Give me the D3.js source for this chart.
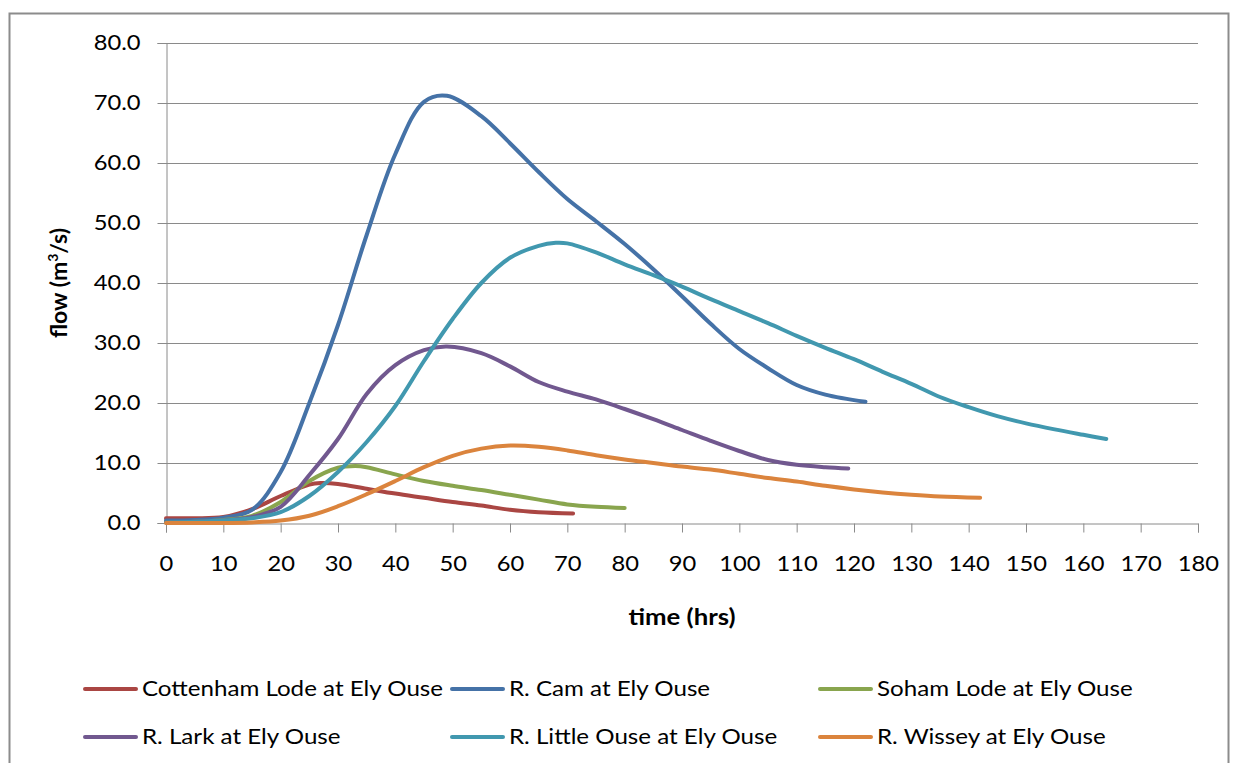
<!DOCTYPE html>
<html>
<head>
<meta charset="utf-8">
<script src="https://cdn.jsdelivr.net/npm/d3@7"></script>
<style>
  html, body { margin: 0; padding: 0; background: #fff; }
  svg { display: block; }
  text { font-family: Lato, "Open Sans", sans-serif; fill: #000; }
</style>
</head>
<body>
<svg id="chart" width="1233" height="763"></svg>
<script>
// Flow hydrographs at Ely Ouse, time in hours, flow in m3/s
const cottenhamT = [0, 5, 10, 15, 20, 25, 27, 30, 35, 40, 45, 50, 55, 60, 65, 71];
const cottenhamQ = [0.8, 0.8, 1.0, 2.3, 4.5, 6.4, 6.65, 6.5, 5.7, 4.9, 4.2, 3.5, 2.9, 2.2, 1.8, 1.6];

const camT = [0, 5, 10, 15, 20, 25, 30, 35, 40, 45, 49, 55, 60, 65, 70, 75, 80, 85, 90, 95, 100, 105, 110, 115, 122];
const camQ = [0.4, 0.5, 0.9, 2.2, 8.5, 20, 33, 48, 61.5, 70.2, 71.2, 67.8, 63.3, 58.5, 54, 50.3, 46.5, 42.3, 37.8, 33.2, 29, 25.8, 23, 21.4, 20.2];

const sohamT = [0, 5, 10, 15, 20, 25, 30, 33, 35, 40, 45, 50, 55, 60, 65, 70, 75, 80];
const sohamQ = [0.1, 0.2, 0.5, 1.2, 3.5, 7, 9.2, 9.5, 9.3, 8.1, 7, 6.2, 5.5, 4.7, 3.9, 3.1, 2.7, 2.5];

const larkT = [0, 5, 10, 15, 20, 25, 30, 35, 40, 45, 49, 55, 60, 65, 70, 75, 80, 85, 90, 95, 100, 105, 110, 115, 119];
const larkQ = [0.1, 0.2, 0.4, 1, 2.7, 8, 14, 21.5, 26.3, 28.8, 29.4, 28.3, 26.1, 23.5, 21.9, 20.6, 19, 17.3, 15.5, 13.7, 12, 10.5, 9.7, 9.3, 9.1];

const littleOuseT = [0, 5, 10, 15, 20, 25, 30, 35, 40, 45, 50, 55, 60, 65, 68, 70, 75, 80, 85, 90, 95, 100, 105, 110, 115, 120, 125, 130, 135, 140, 145, 150, 155, 160, 164];
const littleOuseQ = [0.1, 0.2, 0.4, 0.8, 1.8, 4.5, 8.5, 13.5, 19.5, 27, 34, 40, 44.2, 46.2, 46.7, 46.6, 45.1, 43.1, 41.3, 39.4, 37.3, 35.3, 33.3, 31.2, 29.2, 27.3, 25.2, 23.2, 21, 19.3, 17.8, 16.6, 15.6, 14.7, 14.0];

const wisseyT = [0, 5, 10, 15, 20, 25, 30, 35, 40, 45, 50, 55, 60, 65, 70, 75, 80, 85, 90, 95, 100, 105, 110, 115, 120, 125, 130, 135, 142];
const wisseyQ = [0, 0, 0, 0.1, 0.4, 1.2, 2.8, 4.8, 7, 9.3, 11.2, 12.4, 12.9, 12.7, 12.1, 11.3, 10.6, 10.0, 9.4, 8.9, 8.2, 7.5, 6.9, 6.2, 5.6, 5.1, 4.7, 4.4, 4.2];

const seriesNames = [
  "Cottenham Lode at Ely Ouse", "R. Cam at Ely Ouse", "Soham Lode at Ely Ouse",
  "R. Lark at Ely Ouse", "R. Little Ouse at Ely Ouse", "R. Wissey at Ely Ouse"
];
const seriesColors = ["#AA4643", "#4572A7", "#89A54E", "#71588F", "#4198AF", "#DB843D"];
const seriesTimes = [cottenhamT, camT, sohamT, larkT, littleOuseT, wisseyT];
const seriesFlows = [cottenhamQ, camQ, sohamQ, larkQ, littleOuseQ, wisseyQ];

const xTicks = d3.range(0, 181, 10);
const yTicks = d3.range(0, 81, 10);

const svg = d3.select("#chart");

// outer chart frame
svg.append("rect")
  .attr("x", 9.5).attr("y", 13.5)
  .attr("width", 1219).attr("height", 760)
  .attr("fill", "#fff").attr("stroke", "#8c8c8c").attr("stroke-width", 2);

const plot = { left: 166, right: 1198, top: 43, bottom: 523 };

const x = d3.scaleLinear().domain([0, 180]).range([plot.left, plot.right]);
const y = d3.scaleLinear().domain([0, 80]).range([plot.bottom, plot.top]);

// horizontal text stretch for the wide-set labels
const tickStretch = 1.13;
const legendStretch = 1.15;

// horizontal gridlines
svg.append("g")
  .selectAll("line")
  .data(yTicks.filter(d => d > 0))
  .join("line")
  .attr("x1", plot.left).attr("x2", plot.right)
  .attr("y1", d => Math.round(y(d)) + 0.5).attr("y2", d => Math.round(y(d)) + 0.5)
  .attr("stroke", "#8a8a8a").attr("stroke-width", 1);

// y axis
const yAxis = svg.append("g")
  .attr("transform", `translate(${plot.left + 0.5},0)`)
  .call(d3.axisLeft(y).tickValues(yTicks).tickFormat(d3.format(".1f")).tickSize(9).tickPadding(16));
yAxis.select(".domain").attr("stroke", "#8a8a8a");
yAxis.selectAll(".tick line").attr("stroke", "#8a8a8a");
yAxis.selectAll(".tick text")
  .attr("font-size", 21).attr("font-family", "Lato, sans-serif").attr("fill", "#000")
  .attr("x", -26 / tickStretch)
  .attr("transform", `scale(${tickStretch},1)`);

// x axis
const xAxis = svg.append("g")
  .attr("transform", `translate(0,${plot.bottom + 0.5})`)
  .call(d3.axisBottom(x).tickValues(xTicks).tickFormat(d3.format("d")).tickSize(9).tickPadding(24));
xAxis.select(".domain").attr("stroke", "#8a8a8a");
xAxis.selectAll(".tick line").attr("stroke", "#8a8a8a");
xAxis.selectAll(".tick text")
  .attr("font-size", 21).attr("font-family", "Lato, sans-serif").attr("fill", "#000")
  .attr("transform", `scale(${tickStretch},1)`);

// axis titles
svg.append("text")
  .attr("transform", `translate(${(plot.left + plot.right) / 2},625) scale(1.12,1)`)
  .attr("text-anchor", "middle").attr("font-size", 23).attr("font-weight", "bold")
  .text("time (hrs)");

const yTitle = svg.append("text")
  .attr("transform", `translate(67,${(plot.top + plot.bottom) / 2}) rotate(-90)`)
  .attr("text-anchor", "middle").attr("font-size", 23).attr("font-weight", "bold");
yTitle.append("tspan").text("flow (m");
yTitle.append("tspan").attr("font-size", 14).attr("dy", -9).text("3");
yTitle.append("tspan").attr("dy", 9).text("/s)");

// series lines, smoothed through the sampled flows
const line = d3.line()
  .x(d => x(d[0]))
  .y(d => y(d[1]))
  .curve(d3.curveCatmullRom.alpha(0.5));

const seriesData = seriesNames.map((name, i) => ({
  name,
  color: seriesColors[i],
  points: seriesTimes[i].map((t, j) => [t, seriesFlows[i][j]])
}));

svg.append("g")
  .selectAll("path")
  .data(seriesData)
  .join("path")
  .attr("d", d => line(d.points))
  .attr("fill", "none")
  .attr("stroke", d => d.color)
  .attr("stroke-width", 4)
  .attr("stroke-linecap", "round")
  .attr("stroke-linejoin", "round");

// legend
const legendCols = [85, 452, 820];
const legendRows = [689, 737];
const legend = svg.append("g")
  .selectAll("g")
  .data(seriesData)
  .join("g")
  .attr("transform", (d, i) => `translate(${legendCols[i % 3]},${legendRows[Math.floor(i / 3)]})`);
legend.append("line")
  .attr("x1", 0).attr("x2", 51).attr("y1", 0).attr("y2", 0)
  .attr("stroke", d => d.color).attr("stroke-width", 4).attr("stroke-linecap", "round");
legend.append("text")
  .attr("x", 57 / legendStretch).attr("y", 0).attr("dy", "0.35em")
  .attr("font-size", 21)
  .attr("transform", `scale(${legendStretch},1)`)
  .text(d => d.name);
</script>
</body>
</html>
